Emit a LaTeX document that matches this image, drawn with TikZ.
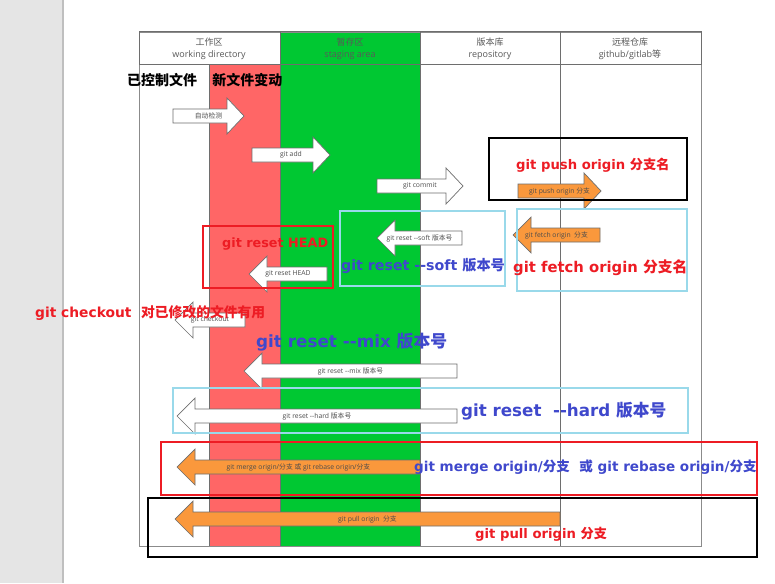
\documentclass[tikz,border=0pt]{standalone}
\usepackage{fontspec}
\setmainfont{Open Sans}
\newfontfamily\cjk{Noto Sans CJK SC}
\newfontfamily\notefont{DejaVu Sans}
\usepackage{tikz}
\usetikzlibrary{positioning}
\usepackage{xcolor}
\definecolor{bandgray}{RGB}{229,229,229}
\definecolor{workred}{RGB}{255,102,102}
\definecolor{stagegreen}{RGB}{0,200,50}
\definecolor{remoteorange}{RGB}{250,152,60}
\definecolor{notered}{RGB}{237,28,36}
\definecolor{noteblue}{RGB}{63,72,204}
\definecolor{noteframe}{RGB}{153,217,234}
\definecolor{gridgray}{RGB}{110,110,110}

\tikzset{
  arrowbox/.style={draw=gridgray, line width=0.7pt},
  arrowtext/.style={font=\fontsize{6.8}{7}\selectfont, text=black!70, inner sep=0pt},
  headtext/.style={font=\fontsize{9}{12}\selectfont, text=black!65, align=center},
  notebox/.style={line width=1.6pt},
  note/.style={font=\notefont\bfseries\fontsize{#1}{#1}\selectfont, inner sep=0pt, anchor=west},
  note/.default=13.2,
}

% block arrows: name, tail x, tip x, y, fill, label
\newcommand{\gitarrowR}[6]{%
  \draw[arrowbox,fill=#5] (#2,#4-7) -- (#3-17,#4-7) -- (#3-17,#4-18) -- (#3,#4)
    -- (#3-17,#4+18) -- (#3-17,#4+7) -- (#2,#4+7) -- cycle;
  \node[arrowtext] (#1) at ({(#2+#3)/2},#4) {#6};}
% name, tip x, tail x, y, fill, label
\newcommand{\gitarrowL}[6]{%
  \draw[arrowbox,fill=#5] (#3,#4-7) -- (#2+18,#4-7) -- (#2+18,#4-18) -- (#2,#4)
    -- (#2+18,#4+18) -- (#2+18,#4+7) -- (#3,#4+7) -- cycle;
  \node[arrowtext] (#1) at ({(#2+#3)/2},#4) {#6};}

\begin{document}
\begin{tikzpicture}[x=1pt,y=-1pt]
\useasboundingbox (0,0) rectangle (775,583);
\fill[white] (0,0) rectangle (775,583);
\fill[bandgray] (0,0) rectangle (62,583);
\fill[black!25] (62,0) rectangle (64,583);

% columns
\fill[workred] (209,65) rectangle (280,546);
\fill[stagegreen] (280,32) rectangle (420,546);
\draw[gridgray!80] (139,32) rectangle (701,546);
\draw[gridgray] (209,65) -- (209,546);
\draw[gridgray] (280,65) -- (280,546);
\draw[gridgray] (420,65) -- (420,546);
\draw[gridgray, line width=0.8pt] (560,65) -- (560,546);

% header row
\draw[gridgray, line width=1pt] (139,32) rectangle (701,65);
\foreach \x in {280,420,560}
  \draw[gridgray, line width=1pt] (\x,32) -- (\x,65);
\node[headtext] (work) at (209,49) {{\cjk 工作区}\\working directory};
\node[headtext] (stage) at (350,49) {{\cjk 暂存区}\\staging area};
\node[headtext] (repo) at (490,49) {{\cjk 版本库}\\repository};
\node[headtext] (remote) at (630,49) {{\cjk 远程仓库}\\github/gitlab{\cjk 等}};

\node[font=\cjk\bfseries\fontsize{14}{14}\selectfont, inner sep=0pt] (tracked) at (162,80) {已控制文件};
\node[font=\cjk\bfseries\fontsize{14}{14}\selectfont, inner sep=0pt, right=15pt of tracked] (newfiles) {新文件变动};

% arrows
\gitarrowR{detect}{173}{244}{116}{white}{\cjk 自动检测}
\gitarrowR{add}{252}{330}{155}{white}{git add}
\gitarrowR{commit}{377}{463}{186}{white}{git commit}
\gitarrowR{push}{518}{601}{191}{remoteorange}{git push origin {\cjk 分支}}
\gitarrowL{fetch}{513}{600}{235}{remoteorange}{git fetch origin\ \ {\cjk 分支}}
\gitarrowL{soft}{377}{462}{238}{white}{git reset -{}-soft {\cjk 版本号}}
\gitarrowL{head}{249}{327}{274}{white}{git reset HEAD}
\gitarrowL{checkout}{175}{245}{320}{white}{git checkout}
\gitarrowL{mix}{244}{457}{371}{white}{git reset -{}-mix {\cjk 版本号}}
\gitarrowL{hard}{177}{457}{416}{white}{git reset -{}-hard {\cjk 版本号}}
\gitarrowL{merge}{177}{420}{467}{remoteorange}{git merge origin/{\cjk 分支} {\cjk 或} git rebase origin/{\cjk 分支}}
\gitarrowL{pull}{175}{560}{519}{remoteorange}{git pull origin\ \ {\cjk 分支}}

% note frames
\draw[notebox,black] (489,138) rectangle (687,200);
\draw[notebox,noteframe] (340,211) rectangle (505,286);
\draw[notebox,noteframe] (517,209) rectangle (687,291);
\draw[notebox,notered] (203,226) rectangle (333,288);
\draw[notebox,noteframe] (173,388) rectangle (688,433);
\draw[notebox,notered] (161,442) rectangle (757,495);
\draw[notebox,black] (148,498) rectangle (757,557);

% notes
\node[note,notered] (pushnote) at (516,165) {git push origin {\cjk 分支名}};
\node[note=14.2,noteblue] (softnote) at (341,266) {git reset -{}-soft {\cjk 版本号}};
\node[note=14.8,notered] (fetchnote) at (513,268) {git fetch origin {\cjk 分支名}};
\node[note=12.8,notered] (headnote) at (222,244) {git reset HEAD};
\node[note=13.8,notered] (checkoutnote) at (35,313) {git checkout\ \ {\cjk 对已修改的文件有用}};
\node[note=16.8,noteblue] (mixnote) at (256,342) {git reset -{}-mix {\cjk 版本号}};
\node[note=16.7,noteblue] (hardnote) at (461,411) {git reset\ \ -{}-hard {\cjk 版本号}};
\node[note=13.55,noteblue] (mergenote) at (414,467) {git merge origin/{\cjk 分支}\ \ {\cjk 或} git rebase origin/{\cjk 分支}};
\node[note,notered] (pullnote) at (475,534) {git pull origin {\cjk 分支}};
\end{tikzpicture}
\end{document}
